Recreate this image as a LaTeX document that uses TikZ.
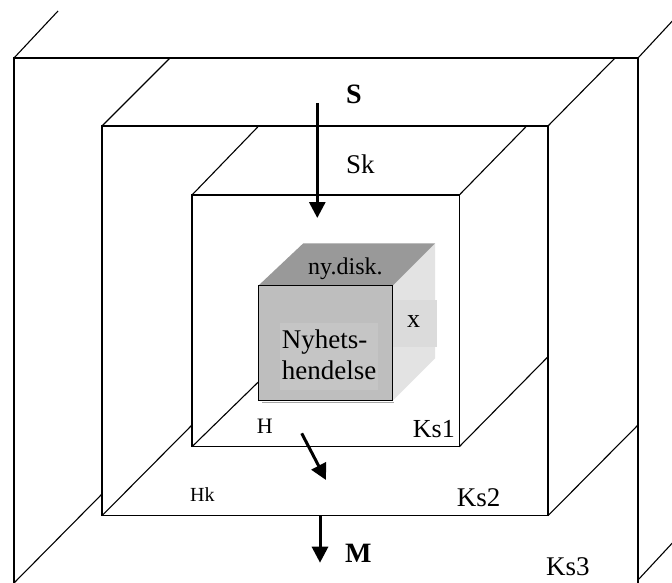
\documentclass[tikz,border=0pt]{standalone}
\usepackage{fontspec}
\setmainfont{Liberation Serif}
\usetikzlibrary{arrows.meta}
\newcommand\fsz[1]{\fontsize{#1}{#1}\selectfont}
\definecolor{cubetop}{HTML}{999999}
\definecolor{cubefront}{HTML}{BEBEBE}
\definecolor{cubetext}{HTML}{C5C5C5}
\definecolor{cuberight}{HTML}{E3E3E3}
\definecolor{cubexbox}{HTML}{DBDBDB}
\tikzset{
  frame/.style={line width=1.5pt},
  diag/.style={line width=1.1pt},
  flow/.style={line width=3pt,-{Triangle[width=16pt,length=16pt]}},
  lbl/.style={inner sep=0pt,anchor=base west},
}
\begin{document}
\begin{tikzpicture}[x=1pt,y=-1pt]
\useasboundingbox (0,0) rectangle (672,583);
\fill[white] (0,0) rectangle (672,583);
\clip (0,0) rectangle (672,583);
% Ks3 (outer)
\draw[frame] (14,590) -- (14,58) -- (638,58) -- (638,590);
\draw[diag] (14,58) -- (58,11);
\draw[diag] (638,58) -- (690,2);
\draw[diag] (14,583) -- (102,494);
\draw[diag] (638,580) -- (690,524);
% Ks2 (middle)
\draw[frame] (102,126) rectangle (548,515.7);
\draw[diag] (102,126) -- (170,58);
\draw[diag] (548,126) -- (615,58);
\draw[diag] (102,515.7) -- (192,425);
\draw[diag] (548,515.7) -- (638,425);
% Ks1 (inner)
\draw[frame] (192,195) rectangle (459.3,446.7);
\draw[diag] (192,195) -- (258,126.7);
\draw[diag] (459.3,195) -- (526,126.7);
\draw[diag] (192,446.7) -- (258.3,382);
\draw[diag] (459.3,446.7) -- (548,356.7);
% cube
\fill[cuberight] (392.7,285.7) -- (435,243.3) -- (435,358.3) -- (392.7,400.7) -- cycle;
\fill[cubexbox] (393.3,300) rectangle (437.3,346.7);
\fill[cubetop] (258.3,285.7) -- (303.3,243.3) -- (435,243.3) -- (392.7,285.7) -- cycle;
\draw[gray!70,line width=1.5pt] (262,402.6) -- (394,402.6);
\fill[cubefront] (258.3,285.7) rectangle (392.7,400.7);
\fill[cubetext] (280,323) rectangle (378,390);
\draw[line width=1.5pt] (258.3,285.7) rectangle (392.7,400.7);
% labels
\node[lbl] (nydisk) at (308,274.3) {\fsz{24}ny.disk.};
\node[lbl] (xl) at (407,327.7) {\fsz{26}x};
\node[lbl] (ny1) at (281.7,348.3) {\fsz{27}Nyhets-};
\node[lbl] (ny2) at (281.7,379) {\fsz{27}hendelse};
\node[lbl] (S) at (346,103.3) {\fsz{28}\textbf{S}};
\node[lbl] (Sk) at (346,174) {\fsz{27}Sk};
\node[lbl] (H) at (256.7,433.3) {\fsz{22}H};
\node[lbl] (Hk) at (190,501) {\fsz{20}Hk};
\node[lbl] (Ks1) at (412.7,437.3) {\fsz{26}Ks1};
\node[lbl] (Ks2) at (456.7,506.7) {\fsz{27}Ks2};
\node[lbl] (Ks3) at (546,575) {\fsz{27}Ks3};
\node[lbl] (M) at (345,562.7) {\fsz{28}\textbf{M}};
% arrows
\coordinate (sa) at (317.3,103);
\coordinate (sb) at (317.3,218);
\coordinate (ha) at (301.7,433.3);
\coordinate (hb) at (326,480);
\coordinate (ma) at (320,516);
\coordinate (mb) at (320,562.7);
\draw[flow] (sa) -- (sb);
\draw[flow] (ha) -- (hb);
\draw[flow] (ma) -- (mb);
\end{tikzpicture}
\end{document}
